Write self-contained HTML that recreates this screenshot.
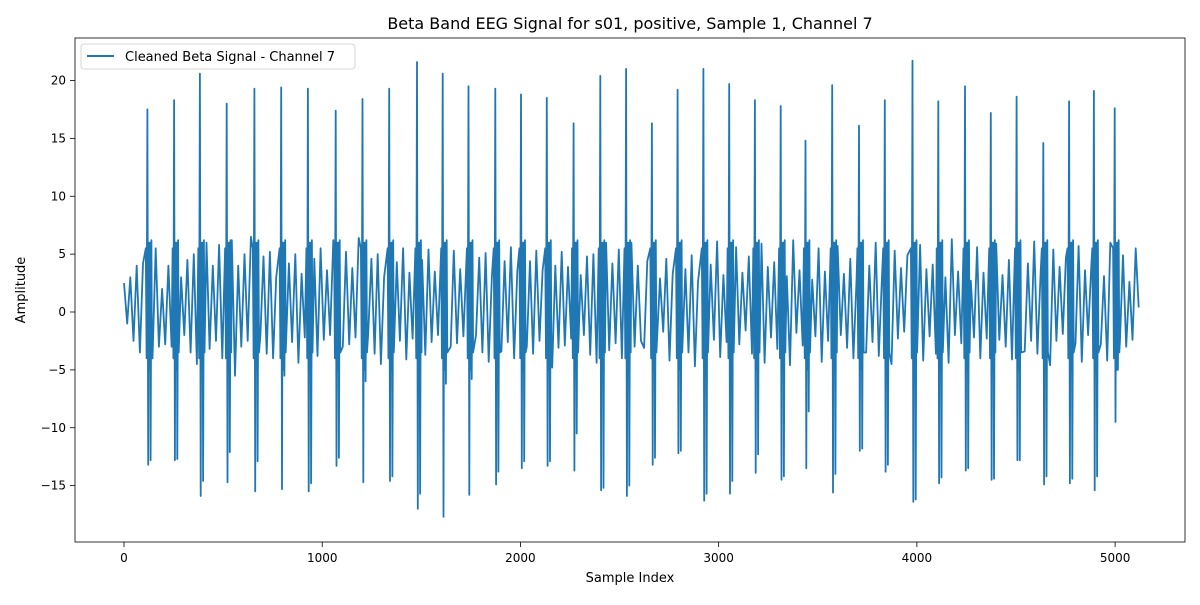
<!DOCTYPE html>
<html><head><meta charset="utf-8"><style>
body{margin:0;background:#fff;font-family:"Liberation Sans","DejaVu Sans",sans-serif}
svg text{font-family:"DejaVu Sans","Liberation Sans",sans-serif;fill:#000}
</style></head><body>
<svg id="chart" width="1200" height="600" xmlns="http://www.w3.org/2000/svg">
<rect width="1200" height="600" fill="#fff"/>
<text x="630" y="29" font-size="16" text-anchor="middle">Beta Band EEG Signal for s01, positive, Sample 1, Channel 7</text>
<g id="plot"></g>
<rect x="75" y="38" width="1110" height="504" fill="none" stroke="#000" stroke-width="0.8"/>
<text x="630" y="582" font-size="13" text-anchor="middle">Sample Index</text>
<text transform="translate(25,290) rotate(-90)" font-size="13" text-anchor="middle">Amplitude</text>
<g>
<rect x="81" y="44" width="274" height="25" rx="3" fill="#fff" stroke="#ccc" stroke-width="0.8"/>
<line x1="87" y1="56" x2="114" y2="56" stroke="#1f77b4" stroke-width="2"/>
<text x="125" y="61" font-size="13">Cleaned Beta Signal - Channel 7</text>
</g>
</svg>
<script>
const backgroundA=[2.5,-1,3,-2.5,4,-3.5,4.2,-2,3,-4,5.5,-3,2,-2.8,4,-3,6,-4,3,-2,4.5,-3.5,5,-4.5,3,-2,6,-3.2,4,-2.5,5.8,-4,3.5,-2,6.2,-5.5,4,-3,5,-2.5,6.5,-4.2,3,-2,4.8,-3.6,5.2,-4,3,-1.8,6.3,-3.4,4.2,-2.6,5,-4.4,3.3,-2.2,6,-3,4.6,-3.8,5.5,-2.4,3.6,-2,6.2,-5,4,-3,5.2,-2.8,3.8,-2.2,6.4,-4,3.2,-1.9,4.6,-3.6,5,-4.5,3,-2,6.1,-3.5,4.3,-2.5,5.5,-4.1,3.4,-2.3,6.2,-3.1,4.5,-3.7,5.4,-2.6,3.5,-2,6,-4.6,4.1,-3,5.3,-2.7,3.7,-2.1,6.3,-3.9,3.3,-2,4.7,-3.5,5.1,-4.3,3.1,-2.2,6,-3.4,4.4,-2.6,5.6,-4,3.5,-2.4,6.1,-3,4.4,-3.6,5.3,-2.5,3.6,-2.1,6.2,-4.8,4,-3.1,5.2,-2.9,3.9,-2.3,6.3,-4.1,3.2,-2,4.8,-3.7,5,-4.4,3,-2,6,-3.3,4.2,-2.7,5.4,-4,3.3,-2.2,6,-3,4,-2.5];
const backgroundB=[-3.1,4.4,-2.2,5.1,-3.8,2.9,-1.7,4.6,-4.2,3.3,-2.9,5.8,-2.1,3.7,-3.5,4.9,-4.7,2.6,-1.9,5.3,-3.3,4.1,-2.4,6.1,-3.9,3.2,-2.6,4.5,-4.1,5.6,-2.8,3.4,-1.6,4.8,-3.6,2.7,-2.3,5.9,-4.4,3.9,-2.2,4.3,-3.2,5.2,-2.7,3.1,-4.6,6.2,-1.8,3.6,-2.9,4.7,-3.4,2.8,-2.1,5.5,-4.3,3.5,-2.5,4.2,-3.7,5.7,-2,3.3,-3.1,4.6,-4,2.9,-1.9,5.4,-3.5,4,-2.6,6,-3.8,3.1,-2.4,4.4,-4.5,5.3,-2.3,3.8,-1.7,4.9,-3.3,2.6,-2.8,5.8,-4.2,3.7,-2.1,4.1,-3.6,5.1,-2.6,3,-4.4,6.3,-2,3.5,-2.7,4.8,-3.1,2.7,-2.2,5.6,-4,3.4,-2.3,4.3,-3.9,5.9,-2.4,3.2,-3,4.5,-4.1,3,-1.8,5.2,-3.4,4.2,-2.5,6.1,-3.6,3.3,-2.2,4.6,-4.6,5.4,-2.5,3.9,-1.9,4.7,-3.2,2.8,-2.7,5.7,-4.3,3.6,-2,4,-3.5,5,-2.8,3.1,-4.2,6,-2.1,3.4,-2.6,4.9,-3,2.6,-2.4,5.5,-3.8,3.5,-2.5,4.1];
const bgStep=16;
const spikePos=[120,255,385,520,660,795,930,1070,1205,1340,1480,1610,1740,1875,2005,2135,2270,2405,2535,2665,2795,2925,3055,3185,3315,3440,3575,3710,3840,3980,4110,4245,4375,4505,4640,4770,4895,5000];
const spikeMax=[17.5,18.3,20.6,18,19.3,19.4,19.3,17.4,18.4,19.3,21.6,20.6,19.5,19.3,18.8,18.5,16.3,20.4,21,16.3,19.2,21,19.7,18.3,17.8,14.8,19.6,16.1,18.3,21.7,18.2,19.5,17.2,18.6,14.6,18.2,19.1,17.6];
const spikeMin=[-13.2,-12.8,-15.9,-14.7,-15.5,-15.3,-15.5,-13.3,-14.7,-14.6,-17,-17.7,-15.8,-14.9,-13.5,-13.3,-13.7,-15.4,-15.9,-13.2,-12.2,-16.3,-15.7,-13.9,-14.5,-13.5,-15.6,-12,-13.8,-16.4,-14.8,-13.7,-14.5,-12.8,-14.9,-14.8,-15.4,-9.5];
const secondMin=[-12.8,-12.7,-14.6,-12.1,-12.9,-5.5,-14.8,-12.6,-6,-14.2,-15.7,-6.2,-5.8,-13.8,-12.9,-12.9,-10.5,-15.2,-15,-12.6,-12,-15.7,-14.6,-12.3,-14.2,-8.6,-14,-11.8,-13.2,-16.2,-14.3,-13.5,-14.4,-12.8,-14.2,-14.4,-14.2,-5];
const xTicks=[0,1000,2000,3000,4000,5000];
const yTicks=[-15,-10,-5,0,5,10,15,20];

const X=v=>124+v*0.19822;
const Y=v=>312-v*11.575;
const NS="http://www.w3.org/2000/svg";
const g=document.getElementById('plot');
function mk(t,a){const e=document.createElementNS(NS,t);for(const k in a)e.setAttribute(k,a[k]);return e;}
xTicks.forEach(t=>{
  const l=mk('line',{x1:X(t),x2:X(t),y1:542,y2:547,stroke:'#000','stroke-width':0.8});
  
  
  g.appendChild(l);
  const tx=mk('text',{x:X(t),y:562,'font-size':12,'text-anchor':'middle'});tx.textContent=t;
  
  
  g.appendChild(tx);
});
yTicks.forEach(t=>{
  const l=mk('line',{x1:70,x2:75,y1:Y(t),y2:Y(t),stroke:'#000','stroke-width':0.8});
  
  
  g.appendChild(l);
  const tx=mk('text',{x:66,y:Y(t)+4,'font-size':12,'text-anchor':'end'});tx.textContent=t<0?'\u2212'+(-t):t;
  
  
  g.appendChild(tx);
});
const background=backgroundA.concat(backgroundB);
let pts=[];
background.forEach((v,i)=>{
  const s=i*bgStep;
  if(s>5110)return;
  if(!spikePos.some(p=>s>p-14&&s<p+24))pts.push([s,v]);
});
spikePos.forEach((p,i)=>{
  pts.push([p-10,5.5],[p-6,-4],[p-2,spikeMax[i]],[p+2,spikeMin[i]],[p+5,6],[p+8,-5],[p+11,6],[p+14,secondMin[i]],[p+18,6.2],[p+21,-3.5]);
});
pts.push([5119,0.4]);
pts.sort((a,b)=>a[0]-b[0]);
const d='M'+pts.map(p=>X(p[0]).toFixed(1)+','+Y(p[1]).toFixed(1)).join('L');
const path=mk('path',{d:d,fill:'none',stroke:'#1f77b4','stroke-width':1.8,'stroke-linejoin':'round'});


g.appendChild(path);
</script>
</body></html>
